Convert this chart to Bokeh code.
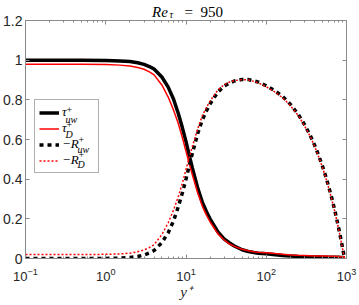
import math
from bokeh.plotting import figure
from bokeh.models import (Legend, LegendItem, LogAxis, LinearAxis,
                          FixedTicker, CustomJSTickFormatter)
from bokeh.core.properties import value
from bokeh.embed import file_html
from bokeh.resources import INLINE

# ---------------- data ----------------
y_plus = [0.1, 0.2, 0.5, 1, 1.5, 2, 2.5, 3, 3.5, 4,
          5, 6, 7, 8, 9, 10, 11, 12, 14, 16,
          18, 20, 25, 30, 35, 40, 50, 60, 70, 80,
          100, 130, 160, 200, 250, 300, 350, 400, 450, 500,
          550, 600, 650, 700, 750, 800, 850, 900, 930, 950]

tau_uw = [1.0, 1.0, 0.999, 0.998, 0.996, 0.993, 0.987, 0.979, 0.968, 0.955,
          0.915, 0.864, 0.803, 0.732, 0.660, 0.589, 0.518, 0.457, 0.355, 0.283,
          0.236, 0.199, 0.134, 0.098, 0.078, 0.063, 0.044, 0.035, 0.030, 0.027,
          0.024, 0.019, 0.015, 0.012, 0.010, 0.009, 0.008, 0.007, 0.007, 0.006,
          0.006, 0.006, 0.006, 0.006, 0.006, 0.006, 0.005, 0.005, 0.004, 0.003]

tau_D = [0.98, 0.98, 0.98, 0.978, 0.975, 0.971, 0.963, 0.954, 0.941, 0.926,
         0.875, 0.814, 0.748, 0.682, 0.610, 0.541, 0.476, 0.422, 0.330, 0.263,
         0.219, 0.184, 0.124, 0.093, 0.073, 0.061, 0.047, 0.039, 0.034, 0.031,
         0.029, 0.025, 0.022, 0.018, 0.016, 0.015, 0.014, 0.013, 0.013, 0.012,
         0.012, 0.011, 0.011, 0.011, 0.010, 0.010, 0.009, 0.009, 0.008, 0.007]

mR_uw = [0.0, 0.0, 0.0, 0.0005, 0.002, 0.005, 0.010, 0.018, 0.028, 0.040,
         0.080, 0.130, 0.190, 0.260, 0.330, 0.400, 0.470, 0.530, 0.630, 0.700,
         0.745, 0.780, 0.840, 0.870, 0.885, 0.895, 0.903, 0.902, 0.896, 0.889,
         0.871, 0.844, 0.817, 0.777, 0.727, 0.675, 0.624, 0.572, 0.519, 0.468,
         0.415, 0.362, 0.310, 0.257, 0.205, 0.152, 0.099, 0.047, 0.015, 0.0]

mR_D = [0.02, 0.02, 0.02, 0.021, 0.023, 0.027, 0.034, 0.043, 0.055, 0.070,
        0.120, 0.180, 0.245, 0.310, 0.380, 0.448, 0.512, 0.565, 0.655, 0.720,
        0.762, 0.795, 0.850, 0.877, 0.890, 0.897, 0.902, 0.900, 0.893, 0.885,
        0.866, 0.838, 0.810, 0.771, 0.721, 0.669, 0.618, 0.566, 0.513, 0.462,
        0.409, 0.356, 0.304, 0.251, 0.199, 0.146, 0.093, 0.041, 0.010, 0.0]

x_ticks = [0.1, 1, 10, 100, 1000]
y_ticks = [0, 0.2, 0.4, 0.6, 0.8, 1.0, 1.2]
title_parts = ["Re", "τ", "=", "950"]
legend_main = ["τ", "τ", "−R", "−R"]
legend_sub = ["uw", "D", "uw", "D"]
x_label = "y⁺"

# ---------------- layout / styling ----------------
SERIF = "Liberation Serif"
SANS = "Liberation Sans"
AXC = "#8a8a8a"
TXT = "#262626"
W, H = 359, 305
BL, BR, BT, BB = 25, 13, 20, 47          # borders round the frame (px)
FW, FH = W - BL - BR, H - BT - BB         # frame size (px)

p = figure(width=W, height=H, x_axis_type="log",
           x_range=(x_ticks[0], x_ticks[-1]), y_range=(y_ticks[0], y_ticks[-1]),
           output_backend="svg", toolbar_location=None,
           min_border_left=BL, min_border_right=BR,
           min_border_top=BT, min_border_bottom=BB)
p.grid.visible = False
p.outline_line_color = AXC
p.background_fill_color = "white"
p.border_fill_color = "white"

x_minor = [k * t for t in x_ticks[:-1] for k in range(2, 10)]

def style_axis(ax, show_labels, size="13px", standoff=3):
    ax.axis_line_color = AXC
    ax.major_tick_line_color = AXC
    ax.minor_tick_line_color = AXC
    ax.major_tick_in = 4
    ax.major_tick_out = 0
    ax.minor_tick_in = 2
    ax.minor_tick_out = 0
    if show_labels:
        ax.major_label_text_font = SANS
        ax.major_label_text_font_size = size
        ax.major_label_text_color = TXT
        ax.major_label_standoff = standoff
    else:
        ax.formatter = CustomJSTickFormatter(code="return '';")
        ax.major_label_text_font_size = "1px"
        ax.major_label_standoff = 0

xax = p.xaxis[0]
xax.ticker = FixedTicker(ticks=x_ticks, minor_ticks=x_minor)
style_axis(xax, True, "13px", 9)
xax.axis_label = x_label
xax.axis_label_text_font = SERIF
xax.axis_label_text_font_style = "italic"
xax.axis_label_text_font_size = "15px"
xax.axis_label_text_color = TXT
xax.axis_label_standoff = 0

yax = p.yaxis[0]
yax.ticker = FixedTicker(ticks=y_ticks, minor_ticks=[])
yax.formatter = CustomJSTickFormatter(code="return (Math.round(tick*10)/10).toString();")
style_axis(yax, True, "14px", 3)

top = LogAxis(ticker=FixedTicker(ticks=x_ticks, minor_ticks=x_minor))
style_axis(top, False)
p.add_layout(top, "above")
right = LinearAxis(ticker=FixedTicker(ticks=y_ticks, minor_ticks=[]))
style_axis(right, False)
p.add_layout(right, "right")

# ---------------- curves ----------------
r1 = p.line(y_plus, tau_uw, line_color="black", line_width=3.5)
r2 = p.line(y_plus, tau_D, line_color="#ff0000", line_width=1.5)
r3 = p.line(y_plus, mR_uw, line_color="black", line_width=3.5, line_dash="4 4")
r4 = p.line(y_plus, mR_D, line_color="#ff0000", line_width=1.5, line_dash="2 2")

legend = Legend(items=[LegendItem(label=legend_main[i], renderers=[r])
                       for i, r in enumerate([r1, r2, r3, r4])],
                location=(9, 85), padding=4, spacing=0, margin=0,
                label_height=15, glyph_height=15, glyph_width=20,
                label_standoff=3, label_width=32,
                label_text_font=SERIF, label_text_font_style="italic",
                label_text_font_size="13px", label_text_color="black",
                border_line_color="#606060", border_line_width=0.8,
                background_fill_alpha=0)
p.add_layout(legend)

# page-pixel position -> data position (for placing the math-like pieces)
LOG0 = math.log10(x_ticks[0])
DEC = FW / (math.log10(x_ticks[-1]) - LOG0)
def dx(px):
    return 10 ** (LOG0 + (px - BL) / DEC)
def dy(py):
    return y_ticks[0] + (BT + FH - py) / FH * (y_ticks[-1] - y_ticks[0])

def put(texts, pxs, pys, size, style="italic", baseline="middle"):
    r = p.text(x=[dx(v) for v in pxs], y=[dy(v) for v in pys], text=texts,
               text_font=value(SERIF), text_font_style=style,
               text_font_size=value(f"{size}px"), text_baseline=baseline,
               text_align="left", text_color="black")
    r.level = "overlay"
    return r

# sub/superscripts of the legend entries (page pixels)
row_c = [116.5, 131.5, 146.5, 161.5]
sup_x = [66.0, 66.0, 78.0, 78.0]
sub_x = [65.0, 65.0, 77.0, 77.0]
put(["+"] * 4, sup_x, [c - 7.5 for c in row_c], 10, style="normal")
put(legend_sub, sub_x, [c + 2.5 for c in row_c], 10)

# title
put([title_parts[0]], [151.5], [11.5], 15, baseline="alphabetic")
put([title_parts[1]], [169], [14], 10, baseline="alphabetic")
put(title_parts[2:], [184, 200], [11.5, 11.5], 15, style="normal",
    baseline="alphabetic")

open("out.html", "w").write(file_html(p, INLINE))
